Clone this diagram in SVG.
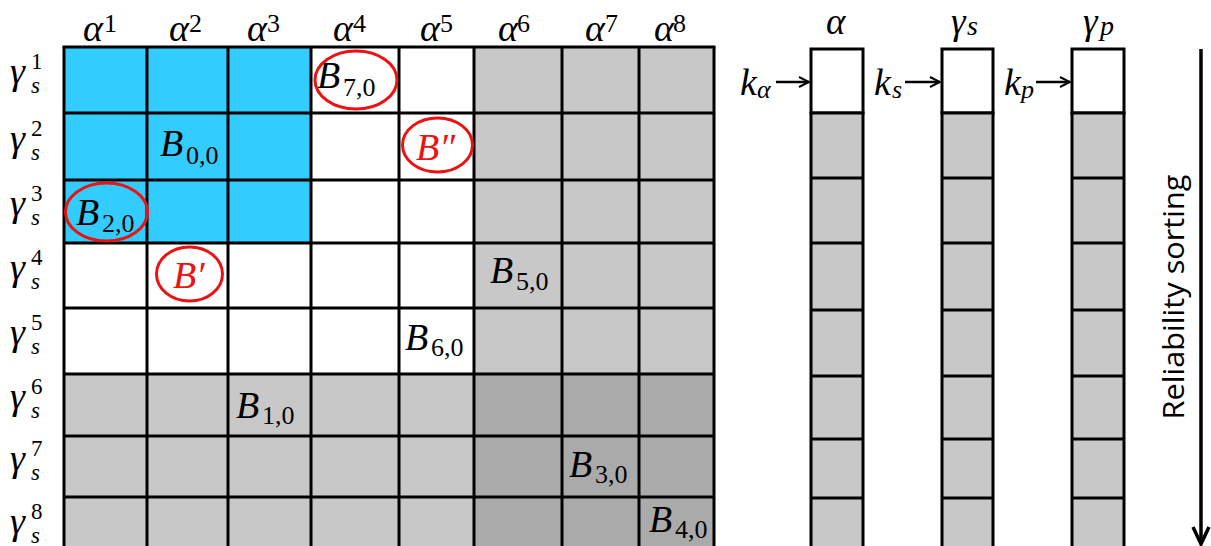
<svg xmlns="http://www.w3.org/2000/svg" width="1211" height="546" viewBox="0 0 1211 546">
<defs>
<style>
.m{font-family:"Liberation Serif","DejaVu Serif",serif;font-style:italic;font-size:38px;fill:#000}
.s{font-family:"Liberation Serif","DejaVu Serif",serif;font-size:26px;fill:#000}
.si{font-family:"Liberation Serif","DejaVu Serif",serif;font-style:italic;font-size:26px;fill:#000}
.rs{font-family:"Liberation Serif","DejaVu Serif",serif;font-size:23px;fill:#000}
.rsi{font-family:"Liberation Serif","DejaVu Serif",serif;font-style:italic;font-size:23px;fill:#000}
.r{fill:#ee1111}
.blue{fill:#33ccff}
.wh{fill:#ffffff}
.lg{fill:#c8c8c8}
.dg{fill:#aaaaaa}
.gl{stroke:#000;stroke-width:3;fill:none}
.ell{fill:none;stroke:#ee1111;stroke-width:3}
.col{stroke:#000;stroke-width:3}
.arr{stroke:#000;stroke-width:2.5;fill:none}
</style>
<marker id="ah" viewBox="0 0 12 12" refX="11" refY="6" markerWidth="12" markerHeight="12" markerUnits="userSpaceOnUse" orient="auto">
<path d="M1,1 L11,6 L1,11" fill="none" stroke="#000" stroke-width="2"/>
</marker>
</defs>
<rect width="1211" height="546" fill="#fff"/>

<g id="grid">
<rect class="blue" x="64" y="47" width="247" height="196"/>
<rect class="wh" x="311" y="47" width="163" height="196"/>
<rect class="wh" x="64" y="243" width="410" height="131"/>
<rect class="lg" x="474" y="47" width="240" height="327"/>
<rect class="lg" x="64" y="374" width="410" height="180"/>
<rect class="dg" x="474" y="374" width="240" height="180"/>
<path class="gl" d="M64,47V554M147,47V554M228,47V554M311,47V554M399,47V554M474,47V554M562,47V554M639,47V554M714,47V554"/>
<path class="gl" d="M62.5,47H715.5M64,113H714M64,180H714M64,243H714M64,308H714M64,374H714M64,436H714M64,497H714"/>
</g>

<g id="col-headers">
<text class="m" x="83" y="41">α</text><text class="s" x="104" y="32">1</text>
<text class="m" x="169" y="41">α</text><text class="s" x="189" y="32">2</text>
<text class="m" x="247" y="41">α</text><text class="s" x="267" y="32">3</text>
<text class="m" x="333" y="41">α</text><text class="s" x="353" y="32">4</text>
<text class="m" x="420" y="41">α</text><text class="s" x="440" y="32">5</text>
<text class="m" x="498" y="41">α</text><text class="s" x="517" y="32">6</text>
<text class="m" x="585" y="41">α</text><text class="s" x="605" y="32">7</text>
<text class="m" x="654" y="41">α</text><text class="s" x="673" y="32">8</text>
</g>

<g id="row-headers">
<text class="m" x="10" y="84">γ</text><text class="rs" x="31" y="69">1</text><text class="rsi" x="31" y="93">s</text>
<text class="m" x="10" y="151">γ</text><text class="rs" x="31" y="136">2</text><text class="rsi" x="31" y="160">s</text>
<text class="m" x="10" y="216">γ</text><text class="rs" x="31" y="201">3</text><text class="rsi" x="31" y="225">s</text>
<text class="m" x="10" y="280">γ</text><text class="rs" x="31" y="265">4</text><text class="rsi" x="31" y="289">s</text>
<text class="m" x="10" y="345">γ</text><text class="rs" x="31" y="330">5</text><text class="rsi" x="31" y="354">s</text>
<text class="m" x="10" y="409">γ</text><text class="rs" x="31" y="394">6</text><text class="rsi" x="31" y="418">s</text>
<text class="m" x="10" y="471">γ</text><text class="rs" x="31" y="456">7</text><text class="rsi" x="31" y="480">s</text>
<text class="m" x="10" y="534">γ</text><text class="rs" x="31" y="519">8</text><text class="rsi" x="31" y="543">s</text>
</g>

<g id="blocks">
<text class="m" x="160" y="156">B</text><text class="s" x="186" y="164">0,0</text>
<text class="m" x="317" y="88">B</text><text class="s" x="343" y="96">7,0</text>
<text class="m" x="76" y="225">B</text><text class="s" x="102" y="232">2,0</text>
<text class="m" x="490" y="283">B</text><text class="s" x="516" y="290">5,0</text>
<text class="m" x="405" y="350">B</text><text class="s" x="431" y="356">6,0</text>
<text class="m" x="236" y="418">B</text><text class="s" x="262" y="424">1,0</text>
<text class="m" x="569" y="477">B</text><text class="s" x="595" y="483">3,0</text>
<text class="m" x="649" y="532">B</text><text class="s" x="675" y="538">4,0</text>
<text class="m r" x="173" y="288">B′</text>
<text class="m r" x="416" y="160">B″</text>
</g>

<g id="highlights">
<ellipse class="ell" cx="356" cy="80" rx="41" ry="29"/>
<ellipse class="ell" cx="106.5" cy="212" rx="41" ry="29"/>
<ellipse class="ell" cx="189.5" cy="274" rx="33" ry="27"/>
<ellipse class="ell" cx="437.5" cy="145" rx="35" ry="27"/>
</g>

<g id="col-alpha">
<rect class="wh col" x="811" y="49" width="52" height="64"/>
<rect class="lg col" x="811" y="113" width="52" height="450"/>
<path class="col" d="M811,178H863M811,243H863M811,310H863M811,376H863M811,439H863M811,498H863"/>
<text class="m" x="826" y="34" style="font-size:37px">α</text>
</g>
<g id="col-gamma-s">
<rect class="wh col" x="942" y="49" width="51" height="64"/>
<rect class="lg col" x="942" y="113" width="51" height="450"/>
<path class="col" d="M942,178H993M942,243H993M942,310H993M942,376H993M942,439H993M942,498H993"/>
<text class="m" x="951" y="34" style="font-size:37px">γ</text><text class="si" x="967" y="35" style="font-size:28px">s</text>
</g>
<g id="col-gamma-p">
<rect class="wh col" x="1072" y="49" width="52" height="64"/>
<rect class="lg col" x="1072" y="113" width="52" height="450"/>
<path class="col" d="M1072,178H1124M1072,243H1124M1072,310H1124M1072,376H1124M1072,439H1124M1072,498H1124"/>
<text class="m" x="1083" y="34" style="font-size:37px">γ</text><text class="si" x="1100" y="35" style="font-size:28px">p</text>
</g>

<g id="pointers">
<text class="m" x="740" y="95">k</text><text class="si" x="757" y="98">α</text>
<text class="m" x="874" y="95">k</text><text class="si" x="892" y="98">s</text>
<text class="m" x="1004" y="95">k</text><text class="si" x="1021" y="98">p</text>
</g>

<g id="connectors">
<line class="arr" x1="776" y1="82" x2="809" y2="82" marker-end="url(#ah)"/>
<line class="arr" x1="905" y1="82" x2="940" y2="82" marker-end="url(#ah)"/>
<line class="arr" x1="1036" y1="82" x2="1070" y2="82" marker-end="url(#ah)"/>
<path d="M1201,49V544" stroke="#000" stroke-width="3.5" fill="none"/>
<path d="M1193,527L1201,544L1209,527" stroke="#000" stroke-width="3.5" fill="none"/>
</g>

<g id="reliability-label">
<text x="0" y="0" transform="translate(1184,297) rotate(-90)" text-anchor="middle" textLength="245" lengthAdjust="spacingAndGlyphs" style="font-family:'Open Sans','Liberation Sans',sans-serif;font-size:30px;fill:#000">Reliability sorting</text>
</g>
</svg>
